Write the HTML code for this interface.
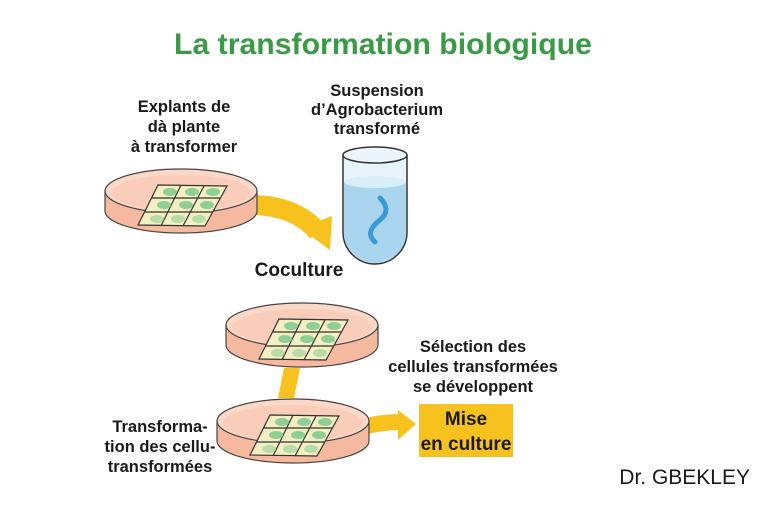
<!DOCTYPE html><html><head><meta charset="utf-8"><style>
body{margin:0;width:768px;height:512px;background:#fff;overflow:hidden}
svg text{font-family:"Liberation Sans",sans-serif;font-weight:bold;fill:#1a1a1a}
</style></head><body>
<svg width="768" height="512" viewBox="0 0 768 512">
<text x="383" y="54" text-anchor="middle" font-size="30" style="fill:#3a9a45" textLength="418" lengthAdjust="spacingAndGlyphs">La transformation biologique</text>
<g font-size="16.5" text-anchor="middle">
<text x="184" y="112">Explants de</text><text x="184" y="132">dà plante</text><text x="184" y="152">à transformer</text>
<text x="377" y="96">Suspension</text><text x="377" y="115">d’Agrobacterium</text><text x="377" y="134">transformé</text>
<text x="473" y="352">Sélection des</text><text x="473" y="372">cellules transformées</text><text x="473" y="392">se développent</text>
<text x="160" y="432">Transforma-</text><text x="160" y="452">tion des cellu-</text><text x="160" y="472">transformées</text>
</g>
<text x="299" y="276" font-size="19" text-anchor="middle">Coculture</text>
<text x="750" y="484" font-size="21" text-anchor="end" style="font-weight:normal">Dr. GBEKLEY</text>
<path d="M250 205 Q295 205 318 232" stroke="#f7c21e" stroke-width="20" fill="none"/>
<polygon points="300,228 332,216 330,250" fill="#f7c21e"/>
<polygon points="284,368 300,368 294,398 278,398" fill="#f7c21e"/>
<path d="M360 428 Q380 422 400 422" stroke="#f7c21e" stroke-width="16" fill="none"/>
<polygon points="398,410 416,424 398,440" fill="#f7c21e"/>
<rect x="419" y="404" width="94" height="53" fill="#f7c21e"/>
<text x="466" y="425" font-size="19" text-anchor="middle">Mise</text>
<text x="466" y="450" font-size="19" text-anchor="middle">en culture</text>
<path d="M343 155 L343 232 A32 32 0 0 0 407 232 L407 155" fill="#e6f4fa" stroke="#333" stroke-width="1.5"/>
<path d="M344 182 L344 232 A31 31 0 0 0 406 232 L406 182 Z" fill="#a9d6ee"/>
<ellipse cx="375" cy="182" rx="31" ry="6" fill="#d8eff9"/>
<ellipse cx="375" cy="155" rx="32" ry="8" fill="#eaf6fb" stroke="#333" stroke-width="1.5"/>
<path d="M380 198 Q392 210 380 220 Q364 232 375 242" stroke="#3a9ad6" stroke-width="5" fill="none" stroke-linecap="round"/>
<g id="d1">
<path d="M105 191 L105 211 A76 22 0 0 0 257 211 L257 191 Z" fill="#f5b9a0" stroke="#444" stroke-width="1.2"/>
<ellipse cx="181" cy="191" rx="76" ry="22" fill="#fbd8c8" stroke="#444" stroke-width="1.2"/>
<ellipse cx="181" cy="193" rx="70" ry="18" fill="#f9cdb9"/>
<polygon points="158,185 227,186 205,226 138,225" fill="#f3efc3" stroke="#333" stroke-width="1.2"/>
<path d="M151 198 L220 198 M145 212 L213 212 M181 185 L161 226 M204 186 L183 226" stroke="#333" stroke-width="1.2"/>
<g fill="#8fcf95"><ellipse cx="170" cy="192" rx="7" ry="4"/><ellipse cx="192" cy="192" rx="7" ry="4"/><ellipse cx="213" cy="192" rx="7" ry="4"/><ellipse cx="164" cy="205" rx="7" ry="4"/><ellipse cx="186" cy="205" rx="7" ry="4"/><ellipse cx="207" cy="205" rx="7" ry="4"/><ellipse cx="157" cy="219" rx="7" ry="4" opacity=".6"/><ellipse cx="178" cy="219" rx="7" ry="4" opacity=".6"/><ellipse cx="199" cy="219" rx="7" ry="4" opacity=".6"/></g>
</g>
<use href="#d1" transform="translate(121,134)"/>
<use href="#d1" transform="translate(112,230)"/>
</svg>
</body></html>
